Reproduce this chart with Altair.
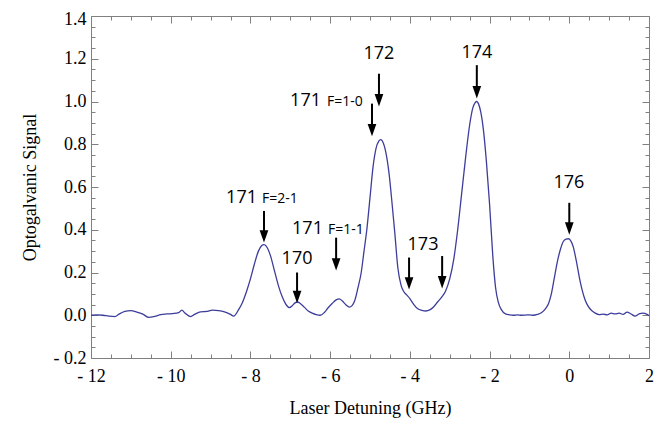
import altair as alt
import pandas as pd

# ---- spectrum ----
x_vals = [-12.0, -11.85, -11.7, -11.55, -11.4, -11.3, -11.15, -11.0, -10.85, -10.7,
          -10.55, -10.4, -10.25, -10.1, -9.95, -9.8, -9.72, -9.65, -9.5, -9.4,
          -9.25, -9.1, -8.95, -8.8, -8.65, -8.5, -8.42, -8.3, -8.2, -8.1,
          -8.0, -7.9, -7.8, -7.72, -7.66, -7.6, -7.5, -7.4, -7.3, -7.2,
          -7.1, -7.02, -6.95, -6.88, -6.82, -6.75, -6.65, -6.55, -6.45, -6.35,
          -6.25, -6.15, -6.05, -5.95, -5.85, -5.77, -5.7, -5.6, -5.52, -5.45,
          -5.38, -5.3, -5.22, -5.15, -5.08, -5.0, -4.92, -4.85, -4.78, -4.73,
          -4.68, -4.6, -4.52, -4.45, -4.38, -4.3, -4.22, -4.15, -4.08, -4.0,
          -3.9, -3.8, -3.7, -3.6, -3.5, -3.4, -3.3, -3.2, -3.1, -3.0,
          -2.9, -2.8, -2.7, -2.6, -2.5, -2.42, -2.36, -2.32, -2.28, -2.22,
          -2.15, -2.08, -2.0, -1.92, -1.85, -1.78, -1.7, -1.6, -1.5, -1.4,
          -1.3, -1.2, -1.1, -1.0, -0.9, -0.8, -0.7, -0.6, -0.52, -0.45,
          -0.38, -0.3, -0.22, -0.15, -0.08, -0.02, 0.03, 0.1, 0.17, 0.25,
          0.32, 0.4, 0.48, 0.56, 0.65, 0.75, 0.85, 0.95, 1.05, 1.15,
          1.25, 1.35, 1.45, 1.55, 1.65, 1.75, 1.85, 1.95, 2.0]
y_vals = [0.0, 0.002, 0.0, -0.004, -0.006, 0.005, 0.018, 0.022, 0.015, 0.005,
          -0.01, -0.005, 0.003, 0.006, 0.008, 0.012, 0.024, 0.012, -0.006, 0.004,
          0.016, 0.018, 0.024, 0.022, 0.016, 0.004, -0.004, 0.025, 0.06, 0.11,
          0.17, 0.24, 0.30, 0.325, 0.33, 0.322, 0.28, 0.21, 0.14, 0.085,
          0.048, 0.036, 0.045, 0.058, 0.062, 0.055, 0.038, 0.02, 0.01, 0.003,
          0.0, 0.012, 0.035, 0.055, 0.072, 0.077, 0.068, 0.048, 0.038, 0.045,
          0.07, 0.13, 0.2, 0.3, 0.40, 0.55, 0.70, 0.78, 0.815, 0.822,
          0.812, 0.76, 0.66, 0.53, 0.39, 0.22, 0.14, 0.11, 0.095, 0.078,
          0.05, 0.03, 0.023, 0.02, 0.025, 0.04, 0.063, 0.085, 0.115, 0.17,
          0.26, 0.40, 0.57, 0.74, 0.89, 0.97, 0.995, 1.0, 0.99, 0.95,
          0.86, 0.72, 0.52, 0.28, 0.13, 0.06, 0.025, 0.006, 0.002, 0.0,
          0.002, 0.0, 0.001, 0.002, 0.0, 0.004, 0.012, 0.03, 0.055, 0.1,
          0.17, 0.25, 0.31, 0.345, 0.356, 0.358, 0.35, 0.32, 0.26, 0.18,
          0.12, 0.07, 0.04, 0.022, 0.01, 0.003, 0.005, 0.002, 0.01, 0.006,
          0.01, 0.004, 0.015, 0.006, -0.004, 0.006, 0.01, 0.004, -0.002]

# ---- ticks ----
x_major = [-12, -10, -8, -6, -4, -2, 0, 2]
x_minor = [-11.5, -11, -10.5, -9.5, -9, -8.5, -7.5, -7, -6.5, -5.5, -5, -4.5,
           -3.5, -3, -2.5, -1.5, -1, -0.5, 0.5, 1, 1.5]
y_major = [-0.2, 0.0, 0.2, 0.4, 0.6, 0.8, 1.0, 1.2, 1.4]
y_minor = [-0.15, -0.1, -0.05, 0.05, 0.1, 0.15, 0.25, 0.3, 0.35, 0.45, 0.5, 0.55,
           0.65, 0.7, 0.75, 0.85, 0.9, 0.95, 1.05, 1.1, 1.15, 1.25, 1.3, 1.35]

# ---- arrows ----
arrow_x = [-7.66, -6.83, -5.85, -4.02, -3.19, -4.95, -4.775, -2.32, 0.0]
arrow_top = [0.488, 0.2, 0.363, 0.27, 0.277, 0.99, 1.13, 1.17, 0.526]
arrow_tip = [0.34, 0.056, 0.209, 0.12, 0.125, 0.837, 0.977, 1.014, 0.377]

# ---- labels ----
c_text = ["170", "173", "172", "174", "176"]
c_x = [-6.83, -3.67, -4.775, -2.32, -0.01]
c_y = [0.242, 0.307, 1.2, 1.205, 0.595]
r_text = ["171", "171", "171"]
r_x = [-7.835, -6.18, -6.23]
r_y = [0.526, 0.381, 0.981]
s_text = ["F=2-1", "F=1-1", "F=1-0"]
s_x = [-7.71, -6.054, -6.08]
s_y = [0.526, 0.381, 0.981]

W, H = 558, 342
GRAY = "#808080"
LINE = "#3d3d9b"
SANS = "Open Sans"

df = pd.DataFrame({"x": x_vals, "y": y_vals})
arrows = pd.DataFrame({"x": arrow_x, "top": arrow_top, "tip": arrow_tip})
cdf = pd.DataFrame({"t": c_text, "x": c_x, "y": c_y})
rdf = pd.DataFrame({"t": r_text, "x": r_x, "y": r_y})
sdf = pd.DataFrame({"t": s_text, "x": s_x, "y": s_y})

xs = alt.Scale(domain=[-12, 2], nice=False, zero=False)
ys = alt.Scale(domain=[-0.2, 1.4], nice=False, zero=False)

line = alt.Chart(df).mark_line(color=LINE, strokeWidth=1.3, interpolate="monotone").encode(
    x=alt.X("x:Q", scale=xs, axis=alt.Axis(
        values=x_major, ticks=False, domain=False, grid=False, labelPadding=9,
        labelFlush=False, labelOverlap=False,
        labelExpr="datum.value < 0 ? '- ' + format(-datum.value, 'd') : format(datum.value, 'd')",
        title="Laser Detuning (GHz)", titlePadding=14)),
    y=alt.Y("y:Q", scale=ys, axis=alt.Axis(
        values=y_major, ticks=False, domain=False, grid=False, labelPadding=5,
        labelOverlap=False,
        labelOffset=alt.condition("datum.value > 1.3", alt.value(3), alt.value(0)),
        labelExpr="datum.value < 0 ? '- ' + format(-datum.value, '.1f') : format(datum.value, '.1f')",
        title="Optogalvanic Signal", titlePadding=14)),
)


def tax(orient, offset, values, size):
    return alt.Axis(orient=orient, offset=offset, values=values, tickSize=size,
                    labels=False, domain=False, grid=False, title=None,
                    ticks=True, tickColor=GRAY, tickWidth=1)


def tick_layer(xaxis, yaxis):
    return alt.Chart(df).mark_line(strokeOpacity=0).encode(
        x=alt.X("x:Q", scale=xs, axis=xaxis),
        y=alt.Y("y:Q", scale=ys, axis=yaxis),
    )


t1 = tick_layer(tax("top", -H, x_major, 7), tax("right", -W, y_major, 7))
t2 = tick_layer(tax("top", -H, x_minor, 4), tax("right", -W, y_minor, 4))
t3 = tick_layer(tax("bottom", -H, x_major, 7), tax("left", -W, y_major, 7))
t4 = tick_layer(tax("bottom", -H, x_minor, 4), tax("left", -W, y_minor, 4))

shafts = alt.Chart(arrows).mark_rule(color="black", strokeWidth=2, y2Offset=-5).encode(
    x=alt.X("x:Q", scale=xs, axis=None),
    y=alt.Y("top:Q", scale=ys, axis=None),
    y2="tip:Q",
)
heads = alt.Chart(arrows).mark_point(
    shape="M0,0L-0.7,-2L0.7,-2Z", size=154, filled=True, color="black",
    opacity=1, strokeWidth=0).encode(
    x=alt.X("x:Q", scale=xs, axis=None),
    y=alt.Y("tip:Q", scale=ys, axis=None),
)

ctext = alt.Chart(cdf).mark_text(font=SANS, fontSize=18, align="center",
                                 baseline="alphabetic", color="black").encode(
    x=alt.X("x:Q", scale=xs, axis=None), y=alt.Y("y:Q", scale=ys, axis=None), text="t:N")
rtext = alt.Chart(rdf).mark_text(font=SANS, fontSize=18, align="right",
                                 baseline="alphabetic", color="black").encode(
    x=alt.X("x:Q", scale=xs, axis=None), y=alt.Y("y:Q", scale=ys, axis=None), text="t:N")
stext = alt.Chart(sdf).mark_text(font=SANS, fontSize=14, align="left",
                                 baseline="alphabetic", color="black").encode(
    x=alt.X("x:Q", scale=xs, axis=None), y=alt.Y("y:Q", scale=ys, axis=None), text="t:N")

chart = alt.layer(line, t1, t2, t3, t4, shafts, heads, ctext, rtext, stext).resolve_axis(
    x="independent", y="independent"
).properties(
    width=W, height=H,
    autosize=alt.AutoSizeParams(type="none"),
    padding={"left": 83, "top": 8, "right": 7, "bottom": 62},
).configure_view(
    stroke=GRAY, strokeWidth=1
).configure_axis(
    labelFont="Liberation Serif", labelFontSize=18, labelColor="black",
    titleFont="Liberation Serif", titleFontSize=18, titleFontWeight="normal",
    titleColor="black",
)

chart.save("out.html", embed_options={"renderer": "svg", "actions": False})
